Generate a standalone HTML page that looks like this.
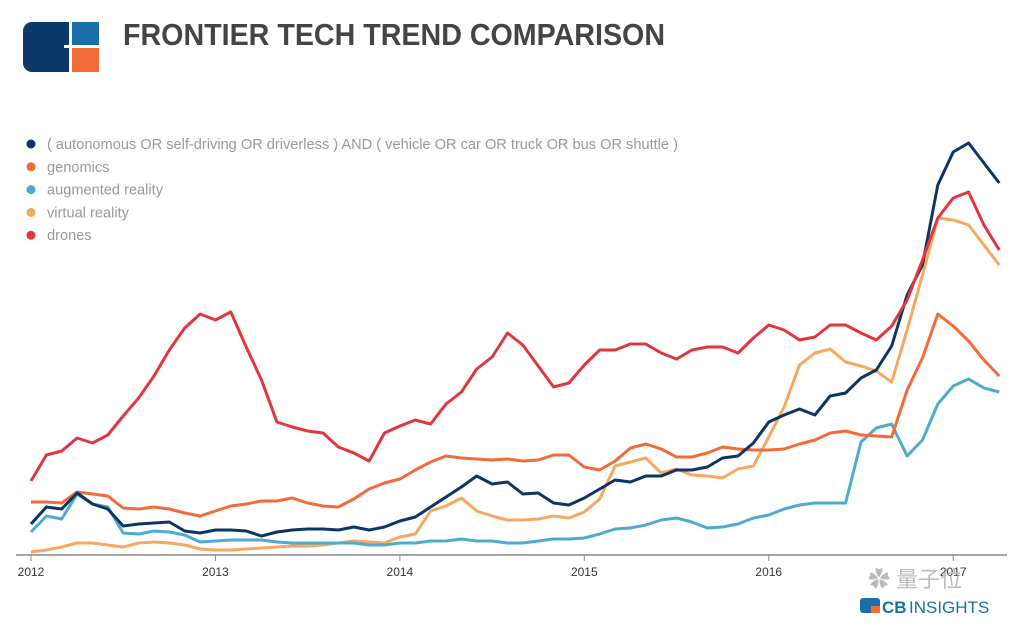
<!DOCTYPE html>
<html><head><meta charset="utf-8"><style>
body{margin:0;background:#fff;}
svg{display:block;font-family:"Liberation Sans",sans-serif;}
</style></head><body>
<svg width="1020" height="623">
<g>
<rect x="23" y="22" width="76" height="50" rx="9" fill="#0b3a6b"/>
<rect x="72" y="22" width="27" height="23" fill="#1a6fa8"/>
<rect x="72" y="48" width="27" height="24" fill="#f26b38"/>
<rect x="64" y="45" width="35" height="3" fill="#fff"/>
<rect x="69" y="22" width="3" height="50" fill="#fff"/>
</g>
<text x="123" y="45" font-weight="bold" font-size="31" fill="#444" textLength="542" lengthAdjust="spacingAndGlyphs">FRONTIER TECH TREND COMPARISON</text>
<g id="legend"></g>
<g id="plot"></g>
<line x1="16" y1="555" x2="1007" y2="555" stroke="#888" stroke-width="1.5"/>
<g id="xaxis"></g>
<text x="868" y="587" font-size="22" fill="#bbb" font-family="'Liberation Sans','Noto Sans CJK SC',sans-serif">✿ 量子位</text>
<g>
<rect x="860" y="598" width="20" height="15" rx="3" fill="#1a6fa8"/>
<rect x="871" y="606" width="9" height="7" fill="#f26b38"/>
<text x="882" y="613" font-size="17" fill="#1a6fa8" font-weight="bold">CB</text><text x="909" y="613" font-size="17" fill="#1a6fa8">INSIGHTS</text>
</g>
</svg>
<script>
const seriesNames=["( autonomous OR self-driving OR driverless ) AND ( vehicle OR car OR truck OR bus OR shuttle )","genomics","augmented reality","virtual reality","drones"];
const seriesColors=["#0d3563","#f26b38","#4eaacf","#f5a85f","#e0363f"];
const yearTicks=["2012","2013","2014","2015","2016","2017"];
const autonomousY=[524,507,509,493,504,509,526,524,523,522,531,533,530,530,531,536,532,530,529,529,530,527,530,527,521,517,507,497,487,476,484,482,494,493,503,505,498,489,480,482,476,476,470,470,467,458,456,443,422,415,409,415,396,393,378,370,346,295,265,185,152,143,163,183];
const genomicsY=[502,502,503,492,494,496,508,509,507,509,513,516,511,506,504,501,501,498,503,506,507,499,489,483,479,470,462,456,458,459,460,459,461,460,455,455,467,470,461,448,444,449,457,457,453,447,449,450,450,449,444,440,433,431,435,436,437,390,358,314,326,341,360,376];
const arY=[532,516,519,494,504,507,533,534,531,532,535,542,541,540,540,540,542,543,543,543,543,543,545,545,543,543,541,541,539,541,541,543,543,541,539,539,538,534,529,528,525,520,518,522,528,527,524,518,515,509,505,503,503,503,442,428,424,456,440,404,386,379,388,392];
const vrY=[552,550,547,543,543,545,547,543,542,543,545,549,550,550,549,548,547,546,546,545,543,541,542,543,537,534,511,506,498,511,516,520,520,519,516,518,512,499,466,462,458,473,469,475,476,478,469,466,437,407,365,353,349,362,366,371,382,330,275,218,220,225,245,265];
const dronesY=[481,455,451,438,443,435,416,398,376,350,328,314,320,312,347,380,422,427,431,433,447,453,461,433,426,420,424,404,392,369,357,333,345,366,387,383,365,350,350,344,344,353,359,350,347,347,353,338,325,330,340,337,325,325,333,340,326,300,260,218,198,192,225,250];
const toVal=a=>a.map(y=>553-y);
const seriesValues=[toVal(autonomousY),toVal(genomicsY),toVal(arY),toVal(vrY),toVal(dronesY)];
const NS="http://www.w3.org/2000/svg";
const xScale=i=>31+i*15.37;
const yScale=v=>553-v;
const plot=document.getElementById('plot');
[3,2,1,0,4].forEach(s=>{
 const p=document.createElementNS(NS,'path');
 p.setAttribute('d',seriesValues[s].map((v,i)=>(i?'L':'M')+xScale(i).toFixed(1)+','+yScale(v)).join(''));
 p.setAttribute('fill','none');p.setAttribute('stroke',seriesColors[s]);p.setAttribute('stroke-width','3');p.setAttribute('stroke-linejoin','round');
 
 
 plot.appendChild(p);
});
const lg=document.getElementById('legend');
seriesNames.forEach((n,i)=>{
 const y=144+i*22.8;
 const c=document.createElementNS(NS,'circle');
 c.setAttribute('cx',31);c.setAttribute('cy',y);c.setAttribute('r',4.5);c.setAttribute('fill',seriesColors[i]);
 
 
 lg.appendChild(c);
 const t=document.createElementNS(NS,'text');
 t.setAttribute('x',47);t.setAttribute('y',y+5);t.setAttribute('font-size','14.6');t.setAttribute('fill','#999');
 t.textContent=n;
 
 
 lg.appendChild(t);
});
const xa=document.getElementById('xaxis');
yearTicks.forEach((y,i)=>{
 const x=xScale(i*12);
 const l=document.createElementNS(NS,'line');
 l.setAttribute('x1',x);l.setAttribute('x2',x);l.setAttribute('y1',555);l.setAttribute('y2',561);l.setAttribute('stroke','#888');
 
 
 xa.appendChild(l);
 const t=document.createElementNS(NS,'text');
 t.setAttribute('x',x);t.setAttribute('y',576);t.setAttribute('text-anchor','middle');t.setAttribute('font-size','12');t.setAttribute('fill','#333');
 t.textContent=y;
 
 
 xa.appendChild(t);
});
</script>
</body></html>
